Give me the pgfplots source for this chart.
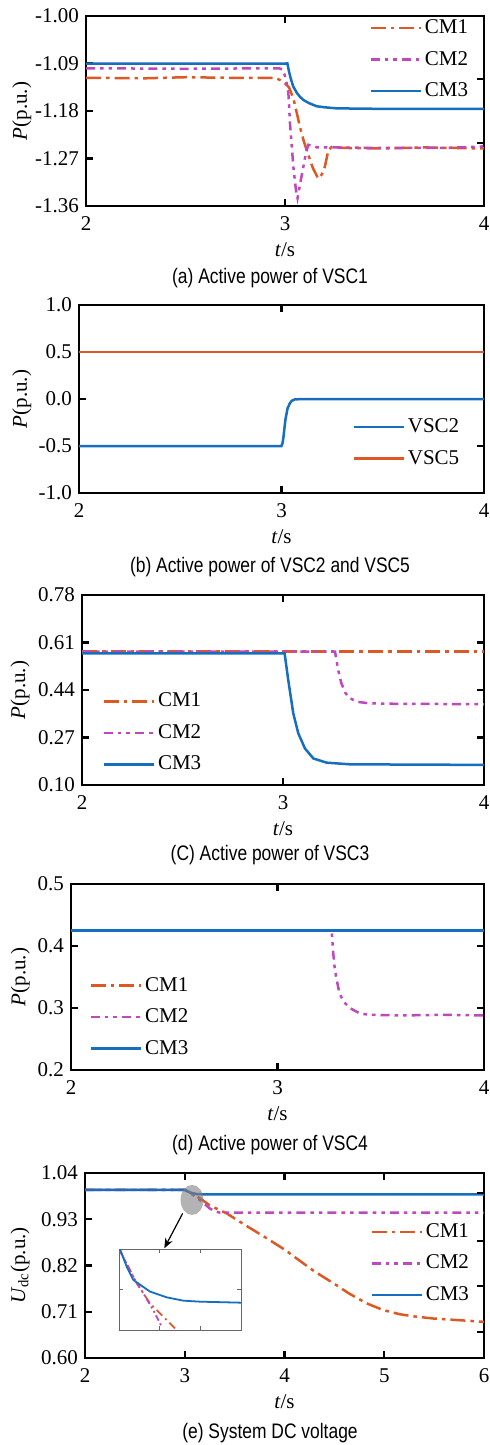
\documentclass[border=0pt]{standalone}
\usepackage{pgfplots}
\pgfplotsset{compat=1.18}
\usepackage{fontspec}
\usepackage{graphicx}
\setmainfont{Liberation Serif}
\newfontfamily\capfont{Liberation Sans}
\usetikzlibrary{arrows.meta}
\newcommand\fs{\fontsize{10.5}{12}\selectfont}
\newcommand\capfs{\capfont\fontsize{10.5}{12}\selectfont}
\definecolor{cmone}{RGB}{222,88,36}
\definecolor{cmtwo}{RGB}{192,72,190}
\definecolor{cmthree}{RGB}{22,110,190}

\pgfplotsset{
  base/.style={
    scale only axis, anchor=south east,
    xmin=2, xmax=4, xtick={2,3,4},
    axis line style={black, line width=1.2pt},
    every tick/.style={black, line width=1.1pt},
    major tick length=3.6pt, tick align=inside,
    ticklabel style={font=\fs},
    label style={font=\fs},
    /pgf/number format/assume math mode=true,
    xlabel={\textit{t}/s},
    xlabel style={at={(axis description cs:0.5,0)}, anchor=center, yshift=-22pt},
    xticklabel style={yshift=-2pt},
    legend style={draw=none, fill=none, font=\fs, inner sep=0pt, row sep=6.25pt, anchor=west,
      nodes={inner sep=0pt, inner xsep=1.5pt, text height=7.5pt, text depth=2pt}},
    legend cell align=left,
    legend image code/.code={\draw[##1] (0pt,0pt) -- (25pt,0pt);},
  },
  cm1/.style={cmone, line width=1.25pt, dash pattern=on 7.5pt off 2.5pt on 1.8pt off 2.5pt},
  cm2/.style={cmtwo, line width=1.25pt, dash pattern=on 4.5pt off 2.5pt on 1.8pt off 2.5pt on 1.8pt off 2.5pt},
  cm3/.style={cmthree, line width=1.25pt},
}

\begin{document}
\begin{tikzpicture}
\useasboundingbox (0,0) rectangle (245pt,-722.5pt);

% (a) VSC1
\begin{axis}[base, at={(242pt,-103pt)}, width=199pt, height=95pt,
  ymin=-1.36, ymax=-1.0, ytick={-1.36,-1.27,-1.18,-1.09,-1.00}, ytick pos=left,
  yticklabel style={/pgf/number format/.cd, fixed, fixed zerofill, precision=2},
  ylabel={\textit{P}(p.u.)}, ylabel style={at={(axis description cs:-0.161,0.5)}, anchor=center},
  legend style={at={(0.711,0.771)}}]
\addplot[cm1] coordinates {(2,-1.117) (2.3,-1.118) (2.5,-1.116) (2.7,-1.117) (2.95,-1.117) (2.99,-1.124) (3.02,-1.135) (3.042,-1.156) (3.06,-1.185) (3.075,-1.21) (3.095,-1.238) (3.117,-1.263) (3.14,-1.288) (3.167,-1.308) (3.185,-1.300) (3.2,-1.286) (3.218,-1.254) (3.235,-1.248) (3.3,-1.25) (3.5,-1.251) (3.7,-1.249) (4,-1.251)};
\addlegendentry{CM1}
\addplot[cm2] coordinates {(2,-1.099) (2.5,-1.100) (2.97,-1.099) (2.99,-1.102) (3.005,-1.12) (3.017,-1.146) (3.025,-1.203) (3.042,-1.286) (3.055,-1.33) (3.063,-1.345) (3.075,-1.32) (3.092,-1.286) (3.105,-1.26) (3.117,-1.244) (3.14,-1.246) (3.16,-1.249) (3.226,-1.249) (3.5,-1.25) (3.8,-1.25) (3.95,-1.248) (4,-1.247)};
\addlegendentry{CM2}
\addplot[cm3] coordinates {(2,-1.09) (3.005,-1.09) (3.012,-1.0897) (3.02,-1.105) (3.03,-1.12) (3.042,-1.134) (3.06,-1.146) (3.075,-1.153) (3.092,-1.159) (3.12,-1.165) (3.159,-1.171) (3.2,-1.173) (3.26,-1.175) (3.5,-1.176) (4,-1.176)};
\addlegendentry{CM3}
\draw[black, line width=1.1pt] (axis cs:4,-1.1194) -- ++(-3.6pt,0pt);
\draw[black, line width=1.1pt] (axis cs:4,-1.2406) -- ++(-3.6pt,0pt);
\end{axis}
\node[anchor=base, font=\capfs] at (135pt,-141.5pt) {\scalebox{0.83}[1]{(a) Active power of VSC1}};

% (b) VSC2 / VSC5
\begin{axis}[base, at={(242pt,-246.5pt)}, width=202.5pt, height=94pt,
  ymin=-1, ymax=1, ytick={-1,-0.5,0,0.5,1},
  yticklabel style={/pgf/number format/.cd, fixed, fixed zerofill, precision=1},
  ylabel={\textit{P}(p.u.)}, ylabel style={at={(axis description cs:-0.141,0.5)}, anchor=center},
  legend style={at={(0.674,0.266)}}]
\addplot[cm3] coordinates {(2,-0.5) (3.0,-0.5) (3.005,-0.47) (3.01,-0.40) (3.015,-0.30) (3.02,-0.21) (3.03,-0.10) (3.04,-0.05) (3.05,-0.02) (3.065,-0.005) (3.1,0.0) (4,0.0)};
\addlegendentry{VSC2}
\addplot[cmone, line width=1.25pt] coordinates {(2,0.5) (4,0.5)};
\addlegendentry{VSC5}
\end{axis}
\node[anchor=base, font=\capfs] at (135pt,-286.3pt) {\scalebox{0.83}[1]{(b) Active power of VSC2 and VSC5}};

% (c) VSC3
\begin{axis}[base, at={(242pt,-392.5pt)}, width=201pt, height=95pt,
  ymin=0.10, ymax=0.78, ytick={0.10,0.27,0.44,0.61,0.78},
  yticklabel style={/pgf/number format/.cd, fixed, fixed zerofill, precision=2},
  ylabel={\textit{P}(p.u.)}, ylabel style={at={(axis description cs:-0.154,0.5)}, anchor=center},
  legend style={at={(0.05,0.274)}}]
\addplot[cm1] coordinates {(2,0.577) (4,0.577)};
\addlegendentry{CM1}
\addplot[cm2] coordinates {(2,0.577) (3.259,0.577) (3.265,0.55) (3.275,0.51) (3.29,0.465) (3.31,0.43) (3.33,0.412) (3.367,0.398) (3.42,0.393) (3.5,0.391) (4,0.389)};
\addlegendentry{CM2}
\addplot[cm3] coordinates {(2,0.571) (3.008,0.571) (3.026,0.476) (3.051,0.357) (3.076,0.285) (3.109,0.231) (3.151,0.195) (3.217,0.180) (3.333,0.174) (4,0.172)};
\addlegendentry{CM3}
\end{axis}
\node[anchor=base, font=\capfs] at (135pt,-430pt) {\scalebox{0.83}[1]{(C) Active power of VSC3}};

% (d) VSC4
\begin{axis}[base, at={(242pt,-535pt)}, width=206.5pt, height=93pt,
  ymin=0.2, ymax=0.5, ytick={0.2,0.3,0.4,0.5},
  yticklabel style={/pgf/number format/.cd, fixed, fixed zerofill, precision=1},
  ylabel={\textit{P}(p.u.)}, ylabel style={at={(axis description cs:-0.123,0.5)}, anchor=center},
  legend style={at={(0.044,0.285)}}]
\addplot[cm1] coordinates {(2,0.425) (4,0.425)};
\addlegendentry{CM1}
\addplot[cm2] coordinates {(2,0.425) (3.262,0.425) (3.27,0.388) (3.278,0.361) (3.29,0.340) (3.30,0.324) (3.32,0.310) (3.35,0.300) (3.40,0.291) (3.45,0.289) (3.6,0.288) (3.8,0.289) (4,0.288)};
\addlegendentry{CM2}
\addplot[cm3] coordinates {(2,0.425) (4,0.425)};
\addlegendentry{CM3}
\end{axis}
\node[anchor=base, font=\capfs] at (135pt,-575pt) {\scalebox{0.83}[1]{(d) Active power of VSC4}};

% (e) DC voltage
\begin{axis}[base, at={(242pt,-679pt)}, width=199.5pt, height=92.5pt,
  xmin=2, xmax=6, xtick={2,3,4,5,6},
  ymin=0.60, ymax=1.04, ytick={0.60,0.71,0.82,0.93,1.04}, ytick pos=left,
  yticklabel style={/pgf/number format/.cd, fixed, fixed zerofill, precision=2},
  ylabel={\textit{U}\textsubscript{dc}(p.u.)}, ylabel style={at={(axis description cs:-0.163,0.5)}, anchor=center},
  legend style={at={(0.714,0.512)}}]
\addplot[cm1] coordinates {(2,1.0) (3.0,1.0) (3.05,0.994) (3.1,0.987) (3.153,0.980) (3.25,0.963) (3.42,0.944) (3.6,0.917) (3.821,0.885) (4.0,0.858) (4.155,0.831) (4.3,0.806) (4.49,0.778) (4.65,0.753) (4.824,0.730) (4.99,0.714) (5.158,0.704) (5.3,0.699) (5.49,0.694) (5.75,0.690) (6,0.686)};
\addlegendentry{CM1}
\addplot[cm2] coordinates {(2,1.0) (3.0,1.0) (3.05,0.993) (3.1,0.985) (3.15,0.976) (3.2,0.966) (3.25,0.956) (3.3,0.949) (3.35,0.946) (6,0.946)};
\addlegendentry{CM2}
\addplot[cm3] coordinates {(2,1.0) (3.0,1.0) (3.02,0.9975) (3.05,0.994) (3.08,0.992) (3.12,0.990) (3.2,0.989) (6,0.989)};
\addlegendentry{CM3}
\fill[gray, opacity=0.6] (axis cs:3.073,0.976) ellipse [x radius=5.75pt, y radius=7.5pt];
\draw[black, line width=0.6pt, -{Stealth[length=5pt,width=4pt]}] (axis cs:2.979,0.944) -- (axis cs:2.795,0.861);
\draw[black, line width=1.1pt] (axis cs:6,0.9924) -- ++(-3.6pt,0pt);
\draw[black, line width=1.1pt] (axis cs:6,0.8783) -- ++(-3.6pt,0pt);
\draw[black, line width=1.1pt] (axis cs:6,0.7713) -- ++(-3.6pt,0pt);
\draw[black, line width=1.1pt] (axis cs:6,0.6619) -- ++(-3.6pt,0pt);
\end{axis}

% inset
\begin{axis}[scale only axis, at={(59.5pt,-665pt)}, anchor=south west, width=61pt, height=40.5pt,
  xmin=3, xmax=3.3, ymin=0.984, ymax=1.0, xtick={3.1,3.2}, ytick={0.992},
  xticklabels={}, yticklabels={}, tick align=inside, major tick length=2pt,
  axis line style={gray!80!black, line width=0.5pt},
  every tick/.style={gray!80!black, line width=0.5pt},
  axis background/.style={fill=white}]
\addplot[cmone, line width=0.9pt, dash pattern=on 4pt off 2pt on 1pt off 2pt] coordinates {(3.0,1.0) (3.027,0.99586) (3.0435,0.99323) (3.076,0.98928) (3.117,0.98597) (3.142,0.984) (3.16,0.9825)};
\addplot[cmtwo, line width=0.9pt, dash pattern=on 3pt off 1.5pt on 1pt off 1.5pt on 1pt off 1.5pt] coordinates {(3.0,1.0) (3.035,0.99453) (3.06,0.99125) (3.084,0.98795) (3.105,0.98466)};
\addplot[cmthree, line width=0.9pt] coordinates {(3.0,1.0) (3.004,0.99966) (3.019,0.9965) (3.035,0.9939) (3.076,0.9916) (3.117,0.99046) (3.158,0.9898) (3.199,0.9896) (3.3,0.9894)};
\end{axis}
\node[anchor=base, font=\capfs] at (135pt,-719pt) {\scalebox{0.83}[1]{(e) System DC voltage}};
\end{tikzpicture}
\end{document}
